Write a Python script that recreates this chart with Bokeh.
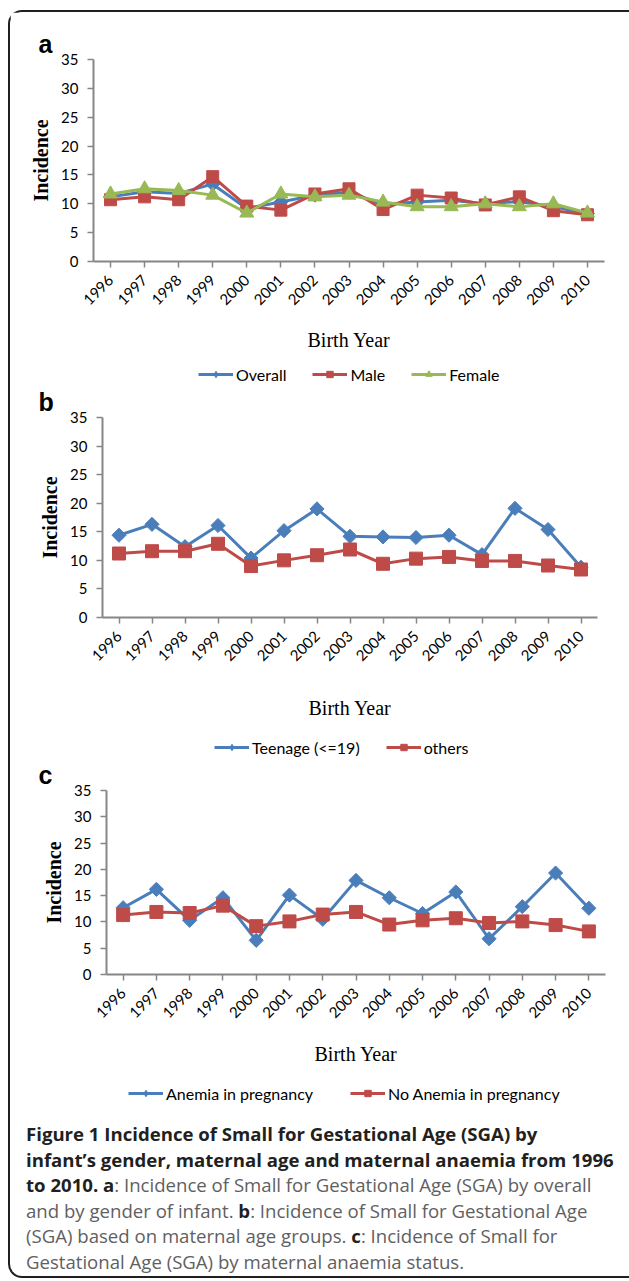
import math
from bokeh.plotting import figure
from bokeh.models import Range1d, FactorRange, Legend, LegendItem, Div, Title, FixedTicker
from bokeh.layouts import column
from bokeh.embed import file_html
from bokeh.resources import INLINE

years = [str(y) for y in range(1996, 2011)]
y_ticks = [0, 5, 10, 15, 20, 25, 30, 35]

# Panel a: overall and by gender of infant
overall = [11.2, 12.1, 11.8, 13.4, 9.2, 10.3, 11.5, 12.0, 9.9, 10.3, 10.6, 10.0, 10.4, 9.5, 8.3]
male = [10.7, 11.2, 10.7, 14.7, 9.6, 8.9, 11.7, 12.6, 9.0, 11.5, 11.0, 9.8, 11.2, 8.8, 8.1]
female = [11.7, 12.6, 12.3, 11.5, 8.4, 11.7, 11.2, 11.5, 10.3, 9.5, 9.5, 10.0, 9.5, 10.0, 8.4]

# Panel b: maternal age groups
teenage = [14.4, 16.3, 12.4, 16.1, 10.4, 15.2, 19.0, 14.2, 14.1, 14.0, 14.4, 11.0, 19.1, 15.4, 8.8]
others = [11.2, 11.6, 11.6, 12.9, 9.0, 10.0, 10.9, 11.9, 9.4, 10.3, 10.6, 9.9, 9.9, 9.1, 8.4]

# Panel c: maternal anaemia status
anemia = [12.7, 16.2, 10.3, 14.6, 6.5, 15.1, 10.5, 17.9, 14.6, 11.6, 15.7, 6.8, 12.9, 19.3, 12.6]
no_anemia = [11.3, 11.9, 11.7, 13.1, 9.2, 10.1, 11.4, 11.9, 9.5, 10.3, 10.7, 9.8, 10.1, 9.4, 8.2]

BLUE = "#4a7ebb"
RED = "#be4b48"
GREEN = "#98b954"
AXIS = "#868686"

FIG_W = 619
X0 = 10  # page x of the figures' left edge


def no_align(p):
    try:
        p.frame_align = False
    except Exception:
        pass


def make_panel(letter, series, frame_left, frame_w, top, frame_h, fig_h,
               xlabel_standoff, title_standoff):
    p = figure(x_range=FactorRange(*years), y_range=Range1d(0, 35),
               frame_width=frame_w, frame_height=frame_h,
               min_border_left=frame_left, min_border_right=FIG_W - frame_left - frame_w,
               min_border_top=top, min_border_bottom=fig_h - top - frame_h,
               toolbar_location=None, output_backend="svg")
    no_align(p)
    p.outline_line_color = None
    p.xgrid.visible = False
    p.ygrid.visible = False
    p.background_fill_color = "white"
    p.border_fill_color = "white"

    p.title = Title(text=letter, align="left", offset=38 - (frame_left + X0),
                    text_font="Liberation Sans", text_font_style="bold",
                    text_font_size="25px", text_color="#000000",
                    standoff=title_standoff)

    for ax in (p.xaxis[0], p.yaxis[0]):
        ax.axis_line_color = AXIS
        ax.axis_line_width = 2
        ax.major_tick_line_color = AXIS
        ax.major_tick_line_width = 1.5
        ax.major_tick_out = 6
        ax.major_tick_in = 0
        ax.minor_tick_line_color = None
        ax.major_label_text_font = "Lato"
        ax.major_label_text_font_size = "15px"
        ax.major_label_text_color = "#000000"

    p.yaxis.ticker = FixedTicker(ticks=y_ticks)
    p.yaxis.major_label_standoff = 9
    p.yaxis.axis_label = "Incidence"
    p.yaxis.axis_label_text_font = "Liberation Serif"
    p.yaxis.axis_label_text_font_style = "bold"
    p.yaxis.axis_label_text_font_size = "20px"
    p.yaxis.axis_label_text_color = "#000000"
    p.yaxis.axis_label_standoff = 6

    p.xaxis.major_label_orientation = math.pi / 4
    p.xaxis.major_label_standoff = 10
    p.xaxis.axis_label = "Birth Year"
    p.xaxis.axis_label_text_font = "Liberation Serif"
    p.xaxis.axis_label_text_font_style = "normal"
    p.xaxis.axis_label_text_font_size = "20px"
    p.xaxis.axis_label_text_color = "#000000"
    p.xaxis.axis_label_standoff = xlabel_standoff

    for name, vals, color, marker, size, angle in series:
        p.line(years, vals, line_color=color, line_width=3)
        p.scatter(years, vals, marker=marker, size=size, angle=angle,
                  fill_color=color, line_color=color)
    return p


def make_legend(series, fig_h, x_left, spacing, vy):
    # legend-only strip: its renderers carry the series but are hidden in the strip itself
    q = figure(width=FIG_W, height=fig_h, x_range=FactorRange(*years), y_range=Range1d(0, 35),
               x_axis_location=None, y_axis_location=None,
               min_border_left=0, min_border_right=0, min_border_top=0, min_border_bottom=0,
               toolbar_location=None, output_backend="svg")
    no_align(q)
    q.outline_line_color = None
    q.grid.visible = False
    q.background_fill_color = "white"
    q.border_fill_color = "white"
    items = []
    for name, vals, color, marker, size in series:
        ln = q.line(years, vals, line_color=color, line_width=3, visible=False)
        sc = q.scatter(years, vals, marker=marker, size=size,
                       fill_color=color, line_color=color, visible=False)
        items.append(LegendItem(label=name, renderers=[ln, sc]))
    legend = Legend(items=items, orientation="horizontal", location=(x_left - X0, vy),
                    glyph_width=35, glyph_height=16, label_standoff=3,
                    spacing=spacing, padding=0, margin=0,
                    border_line_color=None, background_fill_alpha=0,
                    inactive_fill_alpha=0,
                    label_text_font="Lato", label_text_font_size="16px",
                    label_text_color="#000000", label_text_baseline="middle")
    q.add_layout(legend, "center")
    return q


pa = make_panel("a", [("Overall", overall, BLUE, "square", 10, math.pi / 4),
                      ("Male", male, RED, "square", 12, 0),
                      ("Female", female, GREEN, "triangle", 14, 0)],
                83, 511, 47, 202, 352, 16, 4)
la = make_legend([("Overall", overall, BLUE, "diamond", 14),
                  ("Male", male, RED, "square", 11),
                  ("Female", female, GREEN, "triangle", 13)], 20, 198, 26, 0.5)

pb = make_panel("b", [("Teenage (<=19)", teenage, BLUE, "square", 10, math.pi / 4),
                      ("others", others, RED, "square", 13, 0)],
                92, 495, 33, 200, 352, 28, 3)
lb = make_legend([("Teenage (<=19)", teenage, BLUE, "diamond", 14),
                  ("others", others, RED, "square", 11)], 21, 214, 26, 0.5)

pc = make_panel("c", [("Anemia in pregnancy", anemia, BLUE, "square", 10, math.pi / 4),
                      ("No Anemia in pregnancy", no_anemia, RED, "square", 13, 0)],
                96, 499, 32, 184, 325, 17, 3)
lc = make_legend([("Anemia in pregnancy", anemia, BLUE, "diamond", 14),
                  ("No Anemia in pregnancy", no_anemia, RED, "square", 11)], 26, 128, 37, 6.5)

B = "font-weight:700;color:#231f20;"
R = "font-weight:400;color:#5f6062;"
caption_html = (
    '<div style="font-family:\'Open Sans\';font-size:18.6px;line-height:25.6px;'
    'white-space:nowrap;padding:12px 0 0 16px;">'
    f'<span style="{B}">Figure 1 Incidence of Small for Gestational Age (SGA) by</span><br>'
    f'<span style="{B}">infant\u2019s gender, maternal age and maternal anaemia from 1996</span><br>'
    f'<span style="{B}">to 2010. a</span><span style="{R}">: Incidence of Small for Gestational Age (SGA) by overall</span><br>'
    f'<span style="{R}">and by gender of infant. </span><span style="{B}">b</span><span style="{R}">: Incidence of Small for Gestational Age</span><br>'
    f'<span style="{R}">(SGA) based on maternal age groups. </span><span style="{B}">c</span><span style="{R}">: Incidence of Small for</span><br>'
    f'<span style="{R}">Gestational Age (SGA) by maternal anaemia status.</span>'
    '</div>'
)
caption = Div(text=caption_html, width=FIG_W, height=167, margin=0)

layout = column(pa, la, pb, lb, pc, lc, caption, spacing=0, margin=(10, 0, 0, 8),
                styles={"border": "2px solid #231f20",
                        "border-right": "none",
                        "border-radius": "14px 0 0 14px",
                        "background": "white"})

open("out.html", "w").write(file_html(layout, INLINE))
